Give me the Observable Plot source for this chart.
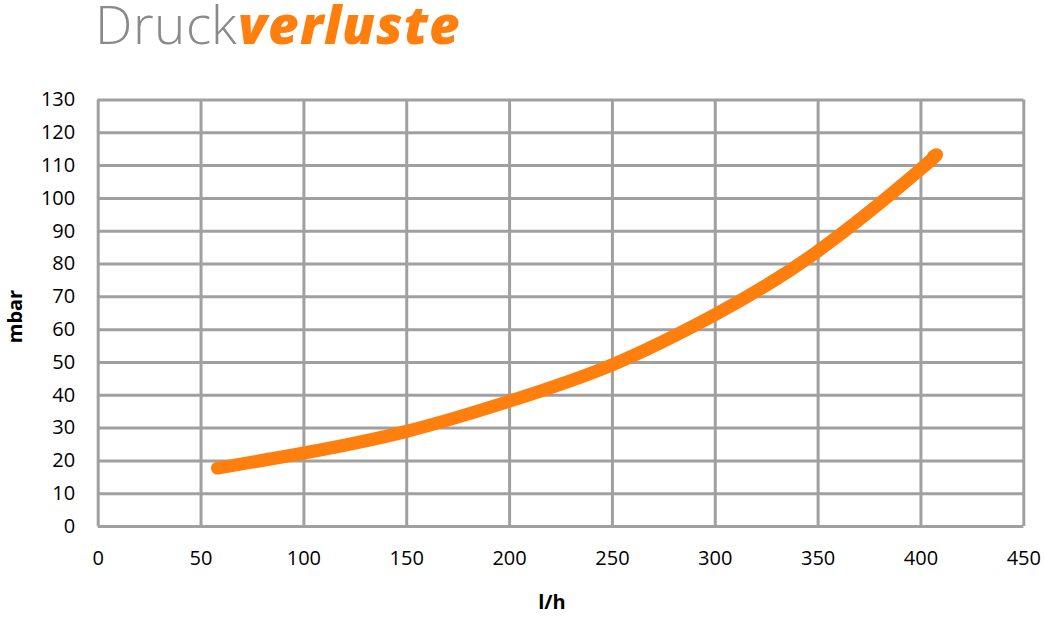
<!DOCTYPE html>
<html>
<head>
<meta charset="utf-8">
<script src="https://cdn.jsdelivr.net/npm/d3@7"></script>
<script src="https://cdn.jsdelivr.net/npm/@observablehq/plot@0.6"></script>
<style>
  @font-face { font-family: "TitleLight"; src: local("Open Sans Light"), local("OpenSans-Light"); font-weight: 300; ascent-override: 70%; descent-override: 24%; }
  @font-face { font-family: "TitleBold"; src: local("Open Sans ExtraBold Italic"), local("OpenSans-ExtraBoldItalic"), local("Open Sans Bold Italic"), local("OpenSans-BoldItalic"); font-weight: 800; font-style: italic; ascent-override: 70%; descent-override: 24%; }
  html, body { margin: 0; padding: 0; background: #fff; }
  #wrap { position: relative; width: 1045px; height: 624px; }
  #title { position: absolute; left: 95px; top: 0px; font-size: 53px; line-height: 53px; white-space: nowrap; }
  #title .a { font-family: "TitleLight", "Open Sans", sans-serif; color: #8a8a8a; font-weight: 300; letter-spacing: 0.5px; }
  #title .b { font-family: "TitleBold", "Open Sans", sans-serif; color: #ff7f0e; font-weight: 800; font-style: italic; letter-spacing: 1px; }
  #chart { position: absolute; left: 0; top: 60px; }
</style>
</head>
<body>
<div id="wrap">
  <div id="title"><span class="a">Druck</span><span class="b">verluste</span></div>
  <div id="chart"></div>
</div>
<script>
const flow = [58, 100, 150, 200, 250, 300, 350, 400, 406];
const pressure = [17.8, 22.4, 29.0, 38.2, 49.3, 64.6, 84.0, 109.0, 112.8];
const xTicks = [0, 50, 100, 150, 200, 250, 300, 350, 400, 450];
const yTicks = [0, 10, 20, 30, 40, 50, 60, 70, 80, 90, 100, 110, 120, 130];

const data = flow.map((x, i) => ({x, y: pressure[i]}));
const grid = "#a0a0a0";
const orange = "#ff7f0e";

const chart = Plot.plot({
  width: 1045,
  height: 564,
  marginLeft: 97.7,
  marginRight: 21.7,
  marginTop: 39.5,
  marginBottom: 98,
  style: {fontFamily: "'Open Sans', sans-serif", fontSize: "20px", color: "#000", background: "#fff"},
  x: {domain: [0, 450], ticks: xTicks, label: null},
  y: {domain: [0, 130], ticks: yTicks, label: null},
  marks: [
    Plot.gridX(xTicks, {stroke: grid, strokeOpacity: 1, strokeWidth: 3}),
    Plot.gridY(yTicks, {stroke: grid, strokeOpacity: 1, strokeWidth: 3}),
    Plot.axisX(xTicks, {tickSize: 0, tickPadding: 24, fontSize: 20, fill: "#000"}),
    Plot.axisY(yTicks, {tickSize: 0, tickPadding: 23, fontSize: 20, fill: "#000"}),
    Plot.line(data, {x: "x", y: "y", curve: "natural", stroke: orange, strokeWidth: 13, strokeLinecap: "round", strokeLinejoin: "round"}),
    Plot.text(["mbar"], {frameAnchor: "left", rotate: -90, dx: -83, dy: 30, fontSize: 20, fontWeight: "bold", fill: "#000"}),
    Plot.text(["l/h"], {frameAnchor: "bottom", dx: -9, dy: 82, fontSize: 20, fontWeight: "bold", fill: "#000"})
  ]
});
document.getElementById("chart").appendChild(chart);
</script>
</body>
</html>
